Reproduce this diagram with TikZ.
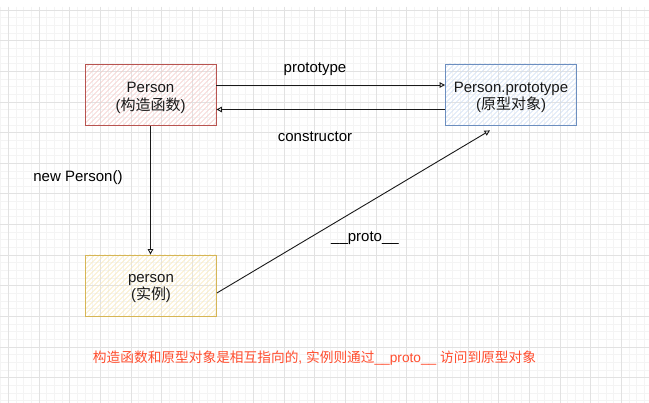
\documentclass[tikz,border=0pt]{standalone}
\usepackage{fontspec}
\setmainfont{Liberation Sans}
\newfontfamily\cjkfont{Noto Sans CJK SC}
\newcommand\zh[1]{{\cjkfont #1}}
\usetikzlibrary{arrows.meta}
\definecolor{gridminor}{RGB}{244,244,244}
\definecolor{gridmajor}{RGB}{226,226,226}
\definecolor{redline}{RGB}{184,84,80}
\definecolor{redhatch}{RGB}{244,200,198}
\definecolor{blueline}{RGB}{108,142,191}
\definecolor{bluehatch}{RGB}{204,220,244}
\definecolor{yellowline}{RGB}{214,182,86}
\definecolor{yellowhatch}{RGB}{250,232,182}
\definecolor{notered}{RGB}{255,77,46}
\newcommand\hatchbox[5]{%
  \begin{scope}
    \clip (#1,#2) rectangle (#3,#4);
    \foreach \k in {0,5,...,200}{\draw[#5,line width=0.7pt] ({#1-62+\k},#4) -- ++(62,-62);}
  \end{scope}}
\begin{document}
\begin{tikzpicture}[x=1pt,y=-1pt,
  box/.style={draw, line width=0.8pt, minimum width=131pt, minimum height=61pt, inner sep=0pt},
  boxtext/.style={inner sep=0pt, yshift=-3pt, align=center, text=black!90, font=\fontsize{15}{17.7}\selectfont},
  lbl/.style={anchor=base, inner sep=0pt, font=\fontsize{15}{18}\selectfont},
  conn/.style={line width=0.9pt, draw=black!90, -{Triangle[open,length=5.5pt,width=5.5pt]}}]
\useasboundingbox (0,0) rectangle (649,403);
\fill[white] (0,0) rectangle (649,403);
% grid
\foreach \k in {0,...,51}{\draw[gridminor,line width=0.8pt] (0,{10+7.6625*\k}) -- (649,{10+7.6625*\k});}
\foreach \k in {-1,...,83}{\draw[gridminor,line width=0.8pt] ({8.3+7.6625*\k},7) -- ({8.3+7.6625*\k},403);}
\foreach \k in {0,...,12}{\draw[gridmajor,line width=0.8pt] (0,{10+30.65*\k}) -- (649,{10+30.65*\k});}
\foreach \k in {0,...,20}{\draw[gridmajor,line width=0.8pt] ({8.3+30.65*\k},7) -- ({8.3+30.65*\k},403);}
% hatching
\hatchbox{85}{64.5}{216}{125.5}{redhatch}
\hatchbox{445.5}{64}{576.5}{125}{bluehatch}
\hatchbox{85.5}{255}{216.5}{316}{yellowhatch}
% boxes
\node[box, draw=redline, label={[boxtext]center:Person\\(\zh{构造函数})}] (ctor) at (150.5,95) {};
\node[box, draw=blueline, label={[boxtext]center:Person.prototype\\(\zh{原型对象})}] (proto) at (511,94.5) {};
\node[box, draw=yellowline, label={[boxtext]center:person\\(\zh{实例})}] (inst) at (151,285.5) {};
% connectors
\draw[conn] ([yshift=10pt]ctor.east) -- ([yshift=10pt]ctor.east -| proto.west);
\draw[conn] ([yshift=-15pt]proto.west) -- ([yshift=-15pt]proto.west -| ctor.east);
\draw[conn] (ctor.south) -- (ctor.south |- inst.north);
\draw[conn] ([yshift=-7.5pt]inst.east) -- ([xshift=-21pt,yshift=-5pt]proto.south);
% labels
\node[lbl] (lproto) at (315,72.7) {prototype};
\node[lbl] (lctor) at (315,141.5) {constructor};
\node[lbl] (lnew) at (78,181.5) {new Person()};
\node[lbl] (lunder) at (365,242) {\_\_proto\_\_};
\node[inner sep=0pt, text=notered, font=\fontsize{13.7}{16}\selectfont] (note) at (314.5,358)
  {\zh{构造函数和原型对象是相互指向的}, \zh{实例则通过}\_\_proto\_\_ \zh{访问到原型对象}};
\end{tikzpicture}
\end{document}
